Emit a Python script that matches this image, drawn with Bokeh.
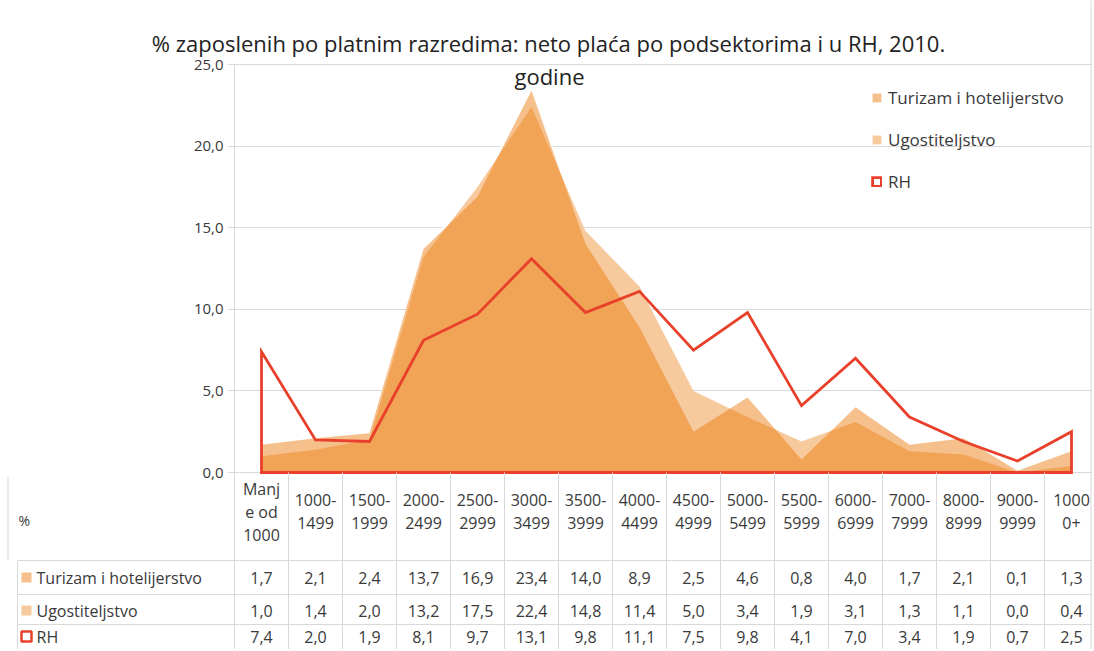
import numpy as np
from bokeh.plotting import figure
from bokeh.models import (Range1d, LinearAxis, FixedTicker, Grid, CustomJSTickFormatter,
                          Legend, LegendItem)
from bokeh.core.properties import value
from bokeh.embed import file_html
from bokeh.resources import INLINE

# ---------------- data ----------------
title_lines = ["% zaposlenih po platnim razredima: neto plaća po podsektorima i u RH, 2010.",
               "godine"]
categories = ["Manje od 1000", "1000-1499", "1500-1999", "2000-2499", "2500-2999",
              "3000-3499", "3500-3999", "4000-4499", "4500-4999", "5000-5499",
              "5500-5999", "6000-6999", "7000-7999", "8000-8999", "9000-9999", "10000+"]
category_labels = ["Manj\ne od\n1000", "1000-\n1499", "1500-\n1999", "2000-\n2499",
                   "2500-\n2999", "3000-\n3499", "3500-\n3999", "4000-\n4499",
                   "4500-\n4999", "5000-\n5499", "5500-\n5999", "6000-\n6999",
                   "7000-\n7999", "8000-\n8999", "9000-\n9999", "1000\n0+"]
series_names = ["Turizam i hotelijerstvo", "Ugostiteljstvo", "RH"]
turizam = [1.7, 2.1, 2.4, 13.7, 16.9, 23.4, 14.0, 8.9, 2.5, 4.6, 0.8, 4.0, 1.7, 2.1, 0.1, 1.3]
ugostiteljstvo = [1.0, 1.4, 2.0, 13.2, 17.5, 22.4, 14.8, 11.4, 5.0, 3.4, 1.9, 3.1, 1.3, 1.1, 0.0, 0.4]
rh = [7.4, 2.0, 1.9, 8.1, 9.7, 13.1, 9.8, 11.1, 7.5, 9.8, 4.1, 7.0, 3.4, 1.9, 0.7, 2.5]
y_ticks = [0, 5, 10, 15, 20, 25]
unit_label = "%"

# ---------------- layout ----------------
W, H = 1092, 649
X0, DX = 261.0, 54.0     # page x of first category centre, category step
Y0, DY = 472.0, 16.32    # page y of value 0, pixels per unit

FONT = value("Open Sans")
TXT = "#3a3a3a"
GRID = "#d9d9d9"
ORANGE = "#EB7400"
RED = "#E8402A"

p = figure(width=W, height=H,
           x_range=Range1d((0 - X0) / DX, (W - X0) / DX),
           y_range=Range1d((Y0 - H) / DY, Y0 / DY),
           output_backend="svg", toolbar_location=None,
           x_axis_type=None, y_axis_type=None, min_border=0,
           outline_line_color=None, background_fill_color="white",
           border_fill_color="white")
p.extra_x_ranges = {"px": Range1d(0, W)}
p.extra_y_ranges = {"py": Range1d(H, 0)}

n = len(categories)
idx = list(range(n))
first, last = idx[0], idx[-1]

# grid + axis
grid = Grid(dimension=1, ticker=FixedTicker(ticks=y_ticks), cross_bounds=(first - 0.5, last + 0.5),
            grid_line_color=GRID, grid_line_width=1)
p.add_layout(grid)

yaxis = LinearAxis(fixed_location=first - 0.5, bounds=(y_ticks[0], y_ticks[-1]),
                   ticker=FixedTicker(ticks=y_ticks),
                   formatter=CustomJSTickFormatter(code="return tick.toFixed(1).replace('.', ',');"),
                   axis_line_color=GRID, major_tick_line_color=GRID,
                   major_tick_out=6, major_tick_in=0, minor_tick_out=0, minor_tick_in=0,
                   major_label_standoff=5, major_label_text_font_size="15px",
                   major_label_text_color=TXT, major_label_text_font="Open Sans")
p.add_layout(yaxis, "left")

# chart border on the right
p.segment(x0=[W - 1.5], y0=[0], x1=[W - 1.5], y1=[H], x_range_name="px", y_range_name="py",
          line_color=GRID, line_width=1)

# areas
p.varea(x=idx, y1=0, y2=np.maximum(turizam, ugostiteljstvo), fill_color="white")

def outline(vals):
    return [first] + idx + [last], [0] + list(vals) + [0]

xs, ys = outline(turizam)
r_t = p.patch(xs, ys, fill_color=ORANGE, fill_alpha=0.45, line_color=None)
xs, ys = outline(ugostiteljstvo)
r_u = p.patch(xs, ys, fill_color=ORANGE, fill_alpha=0.38, line_color=None)
xs, ys = outline(rh)
r_r = p.patch(xs, ys, fill_color=None, line_color=RED, line_width=2.8, line_join="miter")

legend = Legend(items=[LegendItem(label=series_names[0], renderers=[r_t]),
                       LegendItem(label=series_names[1], renderers=[r_u]),
                       LegendItem(label=series_names[2], renderers=[r_r])],
                location=(871, 456), orientation="vertical",
                glyph_width=11, glyph_height=11, label_height=21, spacing=19,
                padding=0, margin=0, border_line_color=None, background_fill_alpha=0,
                label_text_font="Open Sans", label_text_font_size="17px",
                label_text_color=TXT, label_standoff=6)
p.add_layout(legend)

# title
p.text(x=[548], y=[42], text=[title_lines[0]], x_range_name="px", y_range_name="py",
       text_align="center", text_baseline="middle", text_font=FONT,
       text_font_size=value("22px"), text_color="#222222")
p.text(x=[549], y=[75], text=[title_lines[1]], x_range_name="px", y_range_name="py",
       text_align="center", text_baseline="middle", text_font=FONT,
       text_font_size=value("22px"), text_color="#222222")

# ---------------- data table ----------------
TABLE_TOP, TABLE_BOTTOM = Y0, H
row_lines = [560, 594, 624]
row_text_y = [577, 610, 636]
HEAD_Y, HEAD_LH = 511, 23

bounds = [i - 0.5 for i in idx] + [last + 0.5]
p.segment(x0=bounds, y0=[TABLE_TOP] * len(bounds), x1=bounds, y1=[TABLE_BOTTOM] * len(bounds),
          y_range_name="py", line_color=GRID, line_width=1)
p.segment(x0=[17] * len(row_lines), y0=row_lines, x1=[W] * len(row_lines), y1=row_lines,
          x_range_name="px", y_range_name="py", line_color=GRID, line_width=1)
p.segment(x0=[17], y0=[row_lines[0]], x1=[17], y1=[TABLE_BOTTOM],
          x_range_name="px", y_range_name="py", line_color=GRID, line_width=1)
p.segment(x0=[7.5], y0=[TABLE_TOP + 4], x1=[7.5], y1=[row_lines[0]],
          x_range_name="px", y_range_name="py", line_color=GRID, line_width=1)

hx, hy, ht = [], [], []
for i, lab in zip(idx, category_labels):
    parts = lab.split("\n")
    for k, part in enumerate(parts):
        hx.append(i)
        hy.append(HEAD_Y + (k - (len(parts) - 1) / 2) * HEAD_LH)
        ht.append(part)
p.text(x=hx, y=hy, text=ht, y_range_name="py", text_align="center", text_baseline="middle",
       text_font=FONT, text_font_size=value("16px"), text_color=TXT)
p.text(x=[18], y=[520], text=[unit_label], x_range_name="px", y_range_name="py",
       text_align="left", text_baseline="middle", text_font=FONT,
       text_font_size=value("14px"), text_color=TXT)

series_vals = [turizam, ugostiteljstvo, rh]
for ry, name, vals in zip(row_text_y, series_names, series_vals):
    p.text(x=[36], y=[ry], text=[name], x_range_name="px", y_range_name="py",
           text_align="left", text_baseline="middle", text_font=FONT,
           text_font_size=value("16px"), text_color=TXT)
    p.text(x=idx, y=[ry] * n, text=[f"{v:.1f}".replace(".", ",") for v in vals],
           y_range_name="py", text_align="center", text_baseline="middle",
           text_font=FONT, text_font_size=value("16px"), text_color=TXT)

# row keys
p.scatter(x=[26], y=[row_text_y[0]], marker="square", size=10, x_range_name="px",
          y_range_name="py", fill_color=ORANGE, fill_alpha=0.45, line_color=None)
p.scatter(x=[26], y=[row_text_y[1]], marker="square", size=10, x_range_name="px",
          y_range_name="py", fill_color=ORANGE, fill_alpha=0.38, line_color=None)
p.scatter(x=[26], y=[row_text_y[2]], marker="square", size=10, x_range_name="px",
          y_range_name="py", fill_color=None, line_color=RED, line_width=2.5)

open("out.html", "w").write(file_html(p, INLINE))
